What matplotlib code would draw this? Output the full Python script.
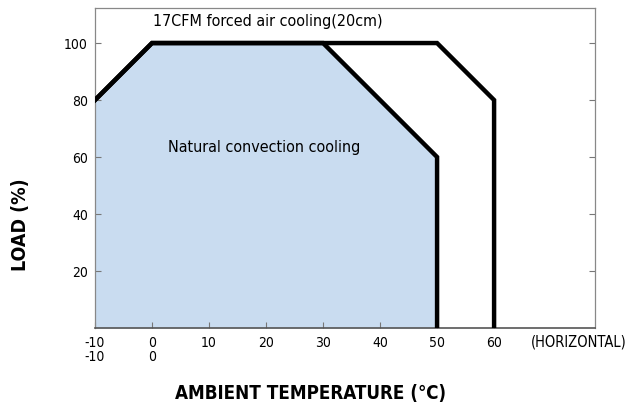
import matplotlib
matplotlib.use("Agg")
import matplotlib.pyplot as plt

# Data
natural_x = [-10, 0, 30, 50, 50]
natural_y = [80, 100, 100, 60, 0]
forced_x = [-10, 0, 50, 60, 60]
forced_y = [80, 100, 100, 80, 0]
x_ticks = [-10, 0, 10, 20, 30, 40, 50, 60]
x_tick_labels = ["-10\n-10", "0\n0", "10", "20", "30", "40", "50", "60"]
y_ticks = [20, 40, 60, 80, 100]

plt.rcParams['font.family'] = ["DejaVu Sans"]
plt.rcParams['font.stretch'] = "condensed"

fig = plt.figure(figsize=(6.31, 4.07), dpi=100)
ax = fig.add_axes([95/631, 1-328/407, 500/631, 320/407])

ax.fill_between(natural_x, natural_y, 0, color="#c9dcf0", linewidth=0, zorder=1)
ax.plot(natural_x, natural_y, color="black", lw=3.2, solid_joinstyle="miter", zorder=3)
ax.plot(forced_x, forced_y, color="black", lw=3.2, solid_joinstyle="miter", zorder=3)

ax.set_xlim(-10, 77.7)
ax.set_ylim(0, 112.3)
ax.set_xticks(x_ticks)
ax.set_xticklabels(x_tick_labels, fontsize=10, linespacing=1.0, va="top")
ax.set_yticks(y_ticks)
ax.set_yticklabels([str(v) for v in y_ticks], fontsize=10)
ax.tick_params(direction="in", length=4, width=0.8, color="#777777", right=True, top=False)
ax.tick_params(axis="x", pad=6)
ax.tick_params(axis="y", pad=5)
for s in ax.spines.values():
    s.set_color("#888888")
    s.set_linewidth(0.9)
ax.spines["bottom"].set_color("#555555")
ax.spines["bottom"].set_linewidth(1.2)

ax.text(20.3, 107.4, "17CFM forced air cooling(20cm)", fontsize=11.5, ha="center", va="center", zorder=4)
ax.text(19.6, 63.5, "Natural convection cooling", fontsize=11.5, ha="center", va="center", zorder=4)
ax.text(74.9, -5.0, "(HORIZONTAL)", fontsize=10.5, ha="center", va="center", clip_on=False)

fig.text(311/631, 1-393/407, "AMBIENT TEMPERATURE (\u2103)", fontsize=13.5, fontweight="bold",
         ha="center", va="center")
fig.text(21/631, 1-225/407, "LOAD (%)", fontsize=14, fontweight="bold", rotation=90,
         ha="center", va="center")

fig.savefig("out.png", dpi=100)
